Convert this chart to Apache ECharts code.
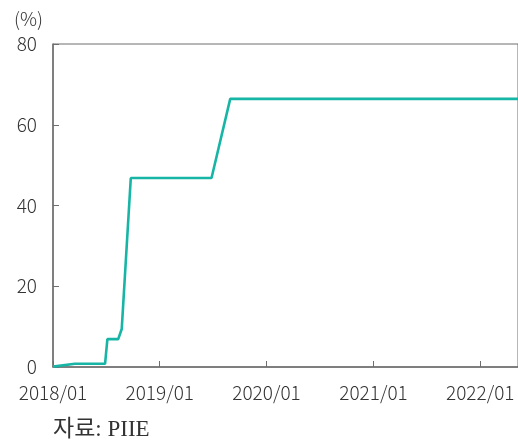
<!DOCTYPE html>
<html>
<head>
<meta charset="utf-8">
<script src="https://cdn.jsdelivr.net/npm/echarts@6/dist/echarts.min.js"></script>
<style>
html,body{margin:0;padding:0;background:#fff;}
#c{width:518px;height:443px;}
</style>
</head>
<body>
<div id="c"></div>
<script>
var dates = ['2018-01-01','2018-03-17','2018-06-28','2018-07-06','2018-08-12','2018-08-24','2018-09-24','2019-06-27','2019-08-30','2022-05-10'];
var shares = [0.1, 0.8, 0.8, 6.9, 6.9, 9.4, 46.8, 46.8, 66.4, 66.4];
var yTicks = [0, 20, 40, 60, 80];
var xTickLabels = ['2018/01','2019/01','2020/01','2021/01','2022/01'];
var unitLabel = '(%)';
var sourceText = '자료: PIIE';

function ts(s){ return Date.UTC(+s.slice(0,4), +s.slice(5,7) - 1, s.length > 7 ? +s.slice(8,10) : 1); }
var xTickValues = xTickLabels.map(function(s){ return ts(s.replace('/', '-')); });
var seriesData = dates.map(function(d, i){ return [ts(d), shares[i]]; });

var chart = echarts.init(document.getElementById('c'), null, {renderer:'canvas'});
var axisColor = '#6e6e6e';
var labelFont = "'Noto Sans CJK KR', 'Noto Sans', sans-serif";
chart.setOption({
  animation: false,
  grid: {left: 53, top: 44, right: -1, bottom: 76, show: true, borderColor: axisColor, borderWidth: 1, containLabel: false},
  xAxis: {
    type: 'value',
    min: xTickValues[0],
    max: ts('2022-05-10'),
    axisLine: {show: true, lineStyle: {color: axisColor, width: 1.5}},
    axisTick: {show: true, inside: true, length: 6, customValues: xTickValues, lineStyle: {color: axisColor}},
    axisLabel: {
      customValues: xTickValues,
      formatter: function(v){ var i = xTickValues.indexOf(v); return i >= 0 ? xTickLabels[i] : ''; },
      color: '#333', fontSize: 19, fontFamily: labelFont, fontWeight: 300, margin: 16, showMinLabel: true, showMaxLabel: true
    },
    splitLine: {show: false}
  },
  yAxis: {
    type: 'value', min: 0, max: 80, interval: 20,
    axisLine: {show: true, lineStyle: {color: axisColor, width: 1.5}},
    axisTick: {show: true, inside: true, length: 6, lineStyle: {color: axisColor}},
    axisLabel: {color: '#333', fontSize: 19, fontFamily: labelFont, fontWeight: 300, margin: 16,
      formatter: function(v){ return yTicks.indexOf(v) >= 0 ? String(v) : ''; }},
    splitLine: {show: false}
  },
  graphic: [
    {type: 'text', left: 14, top: 9, style: {text: unitLabel, fontSize: 19, fontFamily: labelFont, fontWeight: 300, fill: '#333'}},
    {type: 'text', left: 53, top: 418, style: {text: sourceText, fontSize: 23, fontFamily: "'Liberation Serif', 'Noto Sans CJK KR', serif", fill: '#333'}}
  ],
  series: [{
    type: 'line', data: seriesData, showSymbol: false, symbol: 'none',
    lineStyle: {color: '#17b5a5', width: 2.6}, itemStyle: {color: '#17b5a5'}
  }]
});
</script>
</body>
</html>
